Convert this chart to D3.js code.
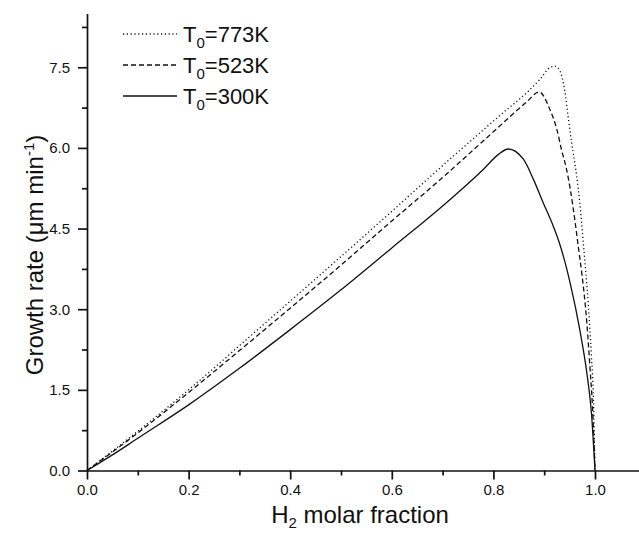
<!DOCTYPE html>
<meta charset="utf-8">
<style>
body { margin: 0; background: #fff; }
svg { display: block; font-family: Arial, "Liberation Sans", sans-serif; }
.curve { fill: none; stroke: #111; stroke-width: 1.3px; }
.axis path, .axis line { stroke: #111; stroke-width: 1.7px; }
.axis text { font-size: 15px; fill: #111; }
</style>
<body>
<svg width="639" height="535"></svg>
<script src="https://cdn.jsdelivr.net/npm/d3@7"></script>
<script>
// T0 = 773K (dotted)
var frac773 = [0, 0.1, 0.2, 0.3, 0.4, 0.5, 0.6, 0.7, 0.8, 0.892, 0.912, 0.921, 0.93, 0.941, 0.947, 0.954, 0.964, 0.97, 0.977, 0.987, 0.993, 0.997, 1.0];
var rate773 = [0, 0.73, 1.5, 2.32, 3.15, 3.98, 4.82, 5.67, 6.5, 7.28, 7.5, 7.52, 7.45, 7.03, 6.59, 6.1, 5.47, 4.98, 4.23, 3.05, 2.12, 1.31, 0];
// T0 = 523K (dashed)
var frac523 = [0, 0.1, 0.2, 0.3, 0.4, 0.5, 0.6, 0.7, 0.8, 0.865, 0.89, 0.911, 0.925, 0.934, 0.944, 0.951, 0.961, 0.967, 0.974, 0.984, 0.99, 0.995, 1.0];
var rate523 = [0, 0.7, 1.45, 2.23, 3.02, 3.82, 4.64, 5.45, 6.3, 6.85, 7.04, 6.72, 6.34, 5.97, 5.6, 5.25, 4.61, 4.17, 3.67, 2.74, 1.93, 1.19, 0];
// T0 = 300K (solid)
var frac300 = [0, 0.05, 0.1, 0.2, 0.3, 0.4, 0.5, 0.6, 0.7, 0.78, 0.81, 0.829, 0.859, 0.879, 0.898, 0.918, 0.931, 0.951, 0.97, 0.984, 0.993, 1.0];
var rate300 = [0, 0.29, 0.6, 1.22, 1.9, 2.62, 3.36, 4.14, 4.92, 5.6, 5.88, 5.98, 5.79, 5.41, 4.98, 4.54, 4.2, 3.49, 2.62, 1.81, 1.07, 0];

var seriesNames = ["773K", "523K", "300K"];
var dashes = ["1.2,2.6", "5,3", null];
var xTicks = [0, 0.2, 0.4, 0.6, 0.8, 1.0];
var yTicks = [0, 1.5, 3.0, 4.5, 6.0, 7.5];

var series = [
  {name: seriesNames[0], dash: dashes[0], values: frac773.map(function(f, i) { return {x: f, y: rate773[i]}; })},
  {name: seriesNames[1], dash: dashes[1], values: frac523.map(function(f, i) { return {x: f, y: rate523[i]}; })},
  {name: seriesNames[2], dash: dashes[2], values: frac300.map(function(f, i) { return {x: f, y: rate300[i]}; })}
];

var svg = d3.select("svg"),
    margin = {left: 87, top: 13.5, bottom: 64.5},
    height = +svg.attr("height") - margin.top - margin.bottom;

var x = d3.scaleLinear().domain([0, 1.2]).range([margin.left, margin.left + 1.2 * 508]),
    y = d3.scaleLinear().domain([0, 8.5]).range([margin.top + height, margin.top]);

var line = d3.line()
    .curve(d3.curveMonotoneX)
    .x(function(d) { return x(d.x); })
    .y(function(d) { return y(d.y); });

// minor ticks
svg.append("g")
    .attr("class", "axis")
    .attr("transform", "translate(0," + y(0) + ")")
    .call(d3.axisBottom(x).tickValues(d3.range(0.1, 1.2, 0.2)).tickSize(5).tickFormat(""))
    .call(function(g) { g.select(".domain").remove(); });
svg.append("g")
    .attr("class", "axis")
    .attr("transform", "translate(" + x(0) + ",0)")
    .call(d3.axisLeft(y).tickValues(d3.range(0.75, 8.5, 1.5)).tickSize(5).tickFormat(""))
    .call(function(g) { g.select(".domain").remove(); });

svg.append("g")
    .attr("class", "axis")
    .attr("transform", "translate(0," + y(0) + ")")
    .call(d3.axisBottom(x).tickValues(xTicks).tickSize(9).tickSizeOuter(0).tickPadding(5).tickFormat(d3.format(".1f")));

svg.append("g")
    .attr("class", "axis")
    .attr("transform", "translate(" + x(0) + ",0)")
    .call(d3.axisLeft(y).tickValues(yTicks).tickSize(9).tickSizeOuter(0).tickPadding(8).tickFormat(d3.format(".1f")));

svg.selectAll(".curve")
    .data(series)
  .enter().append("path")
    .attr("class", "curve")
    .attr("stroke-dasharray", function(d) { return d.dash; })
    .attr("d", function(d) { return line(d.values); });

// legend
var legend = svg.selectAll(".legend")
    .data(series)
  .enter().append("g")
    .attr("class", "legend")
    .attr("transform", function(d, i) { return "translate(123," + (34 + i * 31) + ")"; });

legend.append("line")
    .attr("class", "curve")
    .attr("x1", 0).attr("x2", 54)
    .attr("stroke-dasharray", function(d) { return d.dash; });

var lt = legend.append("text")
    .attr("x", 60)
    .attr("y", 8)
    .style("font-size", "22px")
    .attr("fill", "#111");
lt.append("tspan").text("T");
lt.append("tspan").attr("dy", 6).style("font-size", "15px").text("0");
lt.append("tspan").attr("dy", -6).text(function(d) { return "=" + d.name; });

// axis titles
var xt = svg.append("text")
    .attr("x", 360)
    .attr("y", 523)
    .attr("text-anchor", "middle")
    .style("font-size", "24px")
    .attr("fill", "#111");
xt.append("tspan").text("H");
xt.append("tspan").attr("dy", 5).style("font-size", "15px").text("2");
xt.append("tspan").attr("dy", -5).text(" molar fraction");

var yt = svg.append("text")
    .attr("transform", "translate(43,255) rotate(-90)")
    .attr("text-anchor", "middle")
    .style("font-size", "24px")
    .attr("fill", "#111");
yt.append("tspan").text("Growth rate (\u03bcm min");
yt.append("tspan").attr("dy", -9).style("font-size", "15px").text("-1");
yt.append("tspan").attr("dy", 9).text(")");
</script>
</body>
